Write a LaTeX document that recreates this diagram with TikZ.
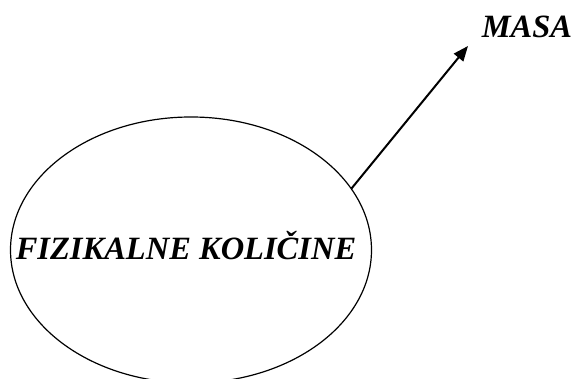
\documentclass[tikz,border=0pt]{standalone}
\usepackage{fontspec}
\setmainfont{Liberation Serif}
\usetikzlibrary{shapes.geometric,arrows.meta}
\tikzset{
  pojam/.style={draw,ellipse,line width=1.2pt,inner sep=0pt,minimum width=361pt,minimum height=266pt},
  oznaka/.style={font=\fontsize{32.5}{36}\selectfont\bfseries\itshape,inner sep=0pt},
  veza/.style={line width=2pt,-{Triangle[length=15pt,width=12pt]}},
}
\begin{document}
\begin{tikzpicture}[x=1pt,y=1pt]
  \useasboundingbox (0,0) rectangle (574,379);
  \node[pojam] (fiz) at (191,129) {};
  \node[oznaka] (ime) at (186,133) {FIZIKALNE KOLIČINE};
  \node[oznaka] (masa) at (527,352) {MASA};
  \coordinate (vrh) at (468,333);
  \draw[veza] (fiz.21) -- (vrh);
\end{tikzpicture}
\end{document}
